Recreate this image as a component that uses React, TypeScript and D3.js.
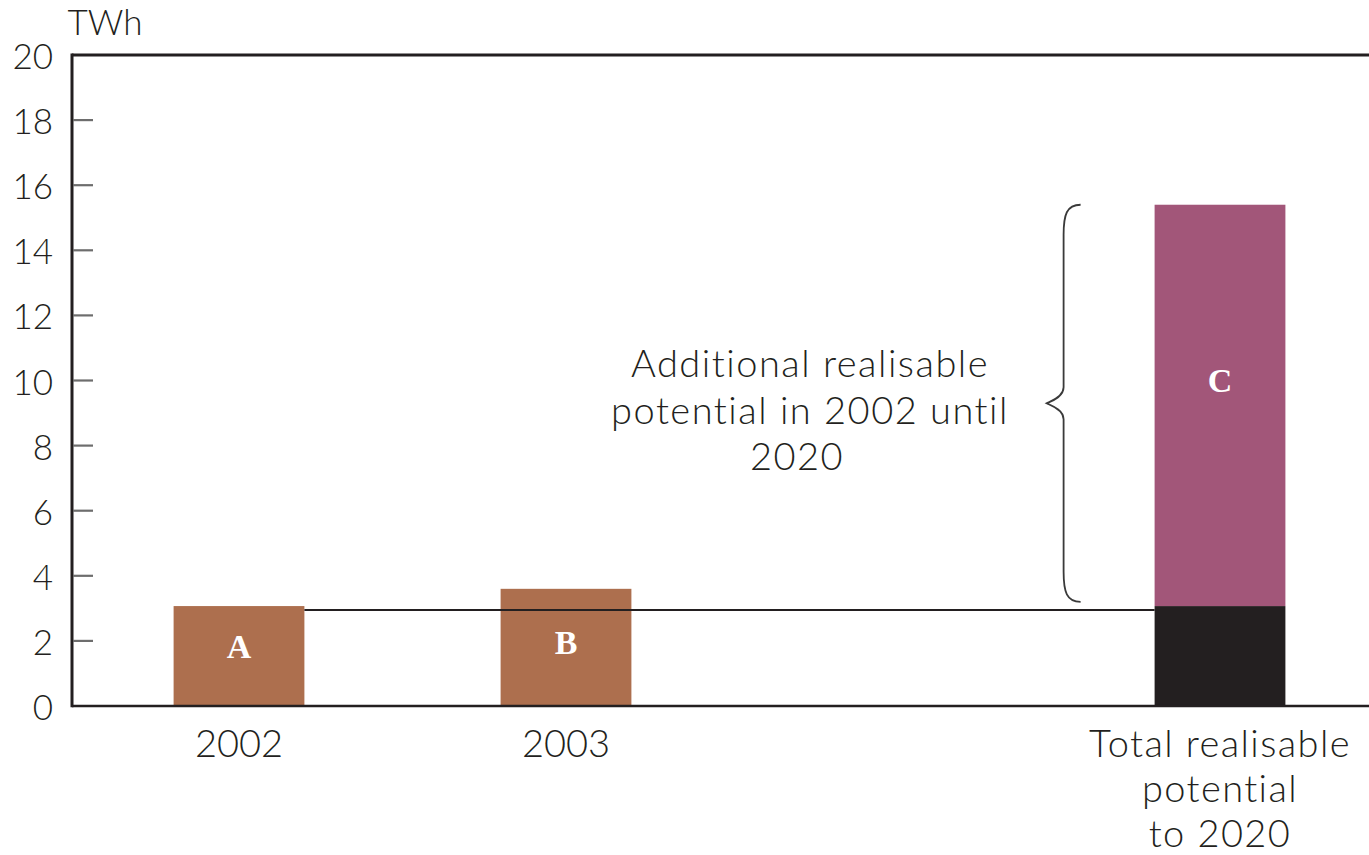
import React from "react";
import * as d3 from "d3";

// ---- data ----
const categories = ["2002", "2003", "gap", "total"];
const categoryLabels: string[][] = [
  ["2002"],
  ["2003"],
  [],
  ["Total realisable", "potential", "to 2020"],
];
const segStart = [0, 0, 0, 3.07];
const segEnd = [3.07, 3.6, 3.07, 15.4];
const segCategory = ["2002", "2003", "total", "total"];
const segColor = ["#ad6f4e", "#ad6f4e", "#231f20", "#a25679"];
const segLabel = ["A", "B", "", "C"];
const segLabelValue = [1.84, 1.94, 0, 10.0];
const yTicks = [0, 2, 4, 6, 8, 10, 12, 14, 16, 18, 20];
const referenceValue = 2.95;
const braceFrom = 3.2;
const braceTo = 15.4;
const annotationLines = ["Additional realisable", "potential in 2002 until", "2020"];
const yUnit = "TWh";

const W = 1369;
const H = 855;
const FONT = "Lato, 'Open Sans', sans-serif";

export default function App() {
  const left = 72;
  const y = d3.scaleLinear().domain([0, 20]).range([706, 55]);
  const x = d3
    .scaleBand<string>()
    .domain(categories)
    .range([75.5, 1383.5])
    .paddingInner(0.6)
    .paddingOuter(0.3);
  const bw = x.bandwidth();

  const tipX = (x("total") as number) - 108;
  const spineX = tipX + 17;
  const endX = tipX + 34;
  const bt = y(braceTo);
  const bb = y(braceFrom);
  const bm = (bt + bb) / 2;
  const bracePath = [
    `M${endX},${bt}`,
    `C${spineX + 3},${bt} ${spineX},${bt + 10} ${spineX},${bt + 30}`,
    `L${spineX},${bm - 16}`,
    `C${spineX},${bm - 6} ${tipX + 4},${bm - 2} ${tipX},${bm}`,
    `C${tipX + 4},${bm + 2} ${spineX},${bm + 6} ${spineX},${bm + 16}`,
    `L${spineX},${bb - 30}`,
    `C${spineX},${bb - 10} ${spineX + 3},${bb} ${endX},${bb}`,
  ].join(" ");

  const refX1 = (x("2002") as number) + bw;
  const refX2 = x("total") as number;

  return (
    <svg
      width={W}
      height={H}
      style={{ position: "absolute", left: 0, top: 0, background: "#fff" }}
      fontFamily={FONT}
    >
      {/* bars */}
      {segStart.map((s, i) => (
        <rect
          key={"b" + i}
          x={x(segCategory[i]) as number}
          y={y(segEnd[i])}
          width={bw}
          height={y(s) - y(segEnd[i])}
          fill={segColor[i]}
        />
      ))}
      {/* reference line */}
      <line
        x1={refX1}
        x2={refX2}
        y1={y(referenceValue)}
        y2={y(referenceValue)}
        stroke="#231f20"
        strokeWidth={2.2}
      />
      {/* bar labels */}
      {segLabel.map((l, i) =>
        l ? (
          <text
            key={"l" + i}
            x={(x(segCategory[i]) as number) + bw / 2}
            y={y(segLabelValue[i])}
            textAnchor="middle"
            dominantBaseline="central"
            fill="#fff"
            fontSize={34}
            fontWeight={700}
            fontFamily="'Liberation Serif', serif"
          >
            {l}
          </text>
        ) : null
      )}
      {/* frame */}
      <line x1={left} x2={W} y1={y(20)} y2={y(20)} stroke="#231f20" strokeWidth={3} />
      <line x1={left} x2={W} y1={y(0)} y2={y(0)} stroke="#231f20" strokeWidth={2.6} />
      <line x1={left} x2={left} y1={y(20) - 1.5} y2={y(0) + 1.3} stroke="#231f20" strokeWidth={3} />
      {/* ticks */}
      {yTicks.map((t) => (
        <g key={"t" + t}>
          {t > 0 && t < 20 ? (
            <line x1={left + 1} x2={93} y1={y(t)} y2={y(t)} stroke="#6d6d6d" strokeWidth={2.2} />
          ) : null}
          <text
            x={53}
            y={y(t)}
            textAnchor="end"
            dominantBaseline="central"
            fontSize={35}
            fill="#231f20"
            fontWeight={300}
          >
            {t}
          </text>
        </g>
      ))}
      <text x={105} y={35} textAnchor="middle" fontSize={35} fill="#231f20" fontWeight={300}>
        {yUnit}
      </text>
      {/* category labels */}
      {categories.map((c, i) =>
        categoryLabels[i].map((line, j) => (
          <text
            key={c + j}
            x={(x(c) as number) + bw / 2}
            y={757 + j * 45}
            textAnchor="middle"
            fontSize={38}
            fill="#231f20"
            fontWeight={300}
            letterSpacing={categoryLabels[i].length > 1 ? 1.4 : 0}
          >
            {line}
          </text>
        ))
      )}
      {/* brace */}
      <path d={bracePath} fill="none" stroke="#3a3a3a" strokeWidth={1.8} />
      {/* annotation */}
      {annotationLines.map((line, j) => (
        <text
          key={"a" + j}
          x={j === 2 ? 797 : 810}
          y={377 + j * 46.5}
          textAnchor="middle"
          fontSize={38}
          fill="#231f20"
          fontWeight={300}
          letterSpacing={1.5}
        >
          {line}
        </text>
      ))}
    </svg>
  );
}
